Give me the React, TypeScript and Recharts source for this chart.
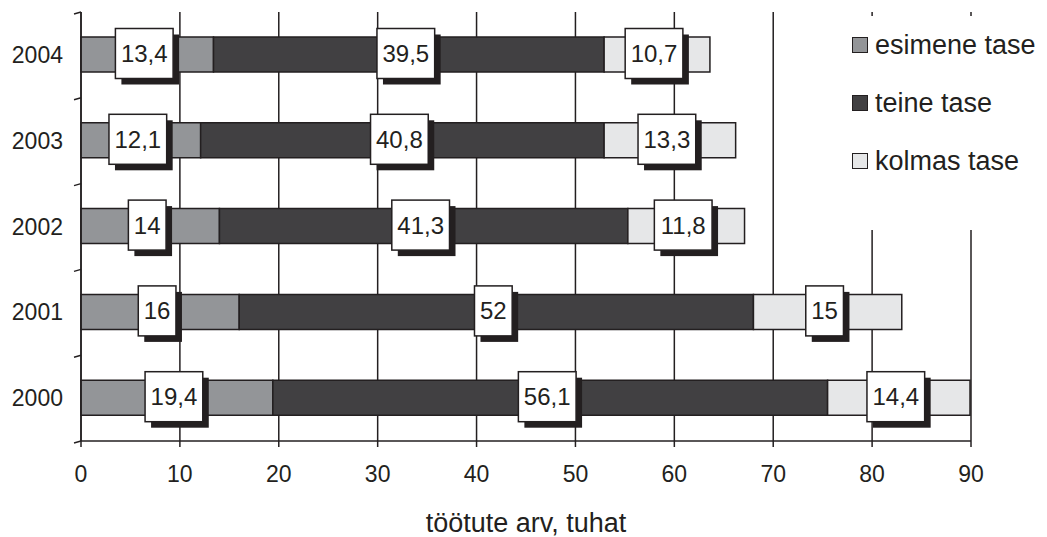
import { BarChart, Bar, XAxis, YAxis, CartesianGrid, LabelList } from "recharts"

const years = ["2004", "2003", "2002", "2001", "2000"]
const esimene = [13.4, 12.1, 14, 16, 19.4]
const teine = [39.5, 40.8, 41.3, 52, 56.1]
const kolmas = [10.7, 13.3, 11.8, 15, 14.4]
const xTicks = [0, 10, 20, 30, 40, 50, 60, 70, 80, 90]

const series = [
  { key: "esimene", name: "esimene tase", color: "#939598" },
  { key: "teine", name: "teine tase", color: "#414042" },
  { key: "kolmas", name: "kolmas tase", color: "#e6e7e8" },
]

const data = years.map((year, i) => ({
  year,
  esimene: esimene[i],
  teine: teine[i],
  kolmas: kolmas[i],
}))

const W = 1047
const H = 537
const TOP = 12
const XAXIS_H = 96
const INK = "#231f20"
const FONT = "'Liberation Sans', Arial, sans-serif"
const band = (H - TOP - XAXIS_H) / years.length

const fmt = (v: number) => String(v).replace(".", ",")

function textWidth(s: string, fs: number) {
  let w = 0
  for (const c of s) w += c === "," ? 0.278 * fs : 0.556 * fs
  return w
}

function ValueBox(props: any) {
  const vb = props.viewBox || {}
  const x = props.x ?? vb.x
  const y = props.y ?? vb.y
  const width = props.width ?? vb.width
  const height = props.height ?? vb.height
  const label = fmt(props.value)
  const fs = 24
  const bw = textWidth(label, fs) + 11
  const bh = 50
  const cx = x + width / 2 - 3
  const cy = y + height / 2 - 1
  return (
    <g>
      <rect x={cx - bw / 2 + 6} y={cy - bh / 2 + 6} width={bw} height={bh} fill={INK} />
      <rect x={cx - bw / 2} y={cy - bh / 2} width={bw} height={bh} fill="#fff" stroke={INK} strokeWidth={1.5} />
      <text x={cx} y={cy + 8.5} textAnchor="middle" fontSize={fs} fontFamily={FONT} fill={INK}>
        {label}
      </text>
    </g>
  )
}

function YearTick(props: any) {
  const { x, y, payload, index } = props
  return (
    <g>
      <line x1={x - 7} y1={y - band / 2 + 2} x2={x} y2={y - band / 2} stroke={INK} strokeWidth={1.5} />
      {index === years.length - 1 && (
        <line x1={x - 7} y1={y + band / 2 + 2} x2={x} y2={y + band / 2} stroke={INK} strokeWidth={1.5} />
      )}
      <text x={x - 18} y={y + 8} textAnchor="end" fontSize={23} fontFamily={FONT} fill={INK}>
        {payload.value}
      </text>
    </g>
  )
}

// legend sits over the top of the 80/90 gridlines, like the original
function LegendBox() {
  return (
    <div
      style={{
        position: "absolute",
        left: 835,
        top: 16,
        width: 212,
        height: 214,
        background: "#fff",
        fontFamily: FONT,
        fontSize: 27,
        color: INK,
        paddingTop: 0,
      }}
    >
      {series.map((s) => (
        <div key={s.key} style={{ display: "flex", alignItems: "center", height: 58, paddingLeft: 17 }}>
          <span
            style={{
              display: "inline-block",
              width: 14,
              height: 14,
              background: s.color,
              border: `1.5px solid ${INK}`,
              marginRight: 7,
            }}
          />
          {s.name}
        </div>
      ))}
    </div>
  )
}

export default function App() {
  return (
    <div style={{ position: "absolute", left: 0, top: 0, width: W, height: H, background: "#fff" }}>
      <BarChart
        width={W}
        height={H}
        data={data}
        layout="vertical"
        margin={{ top: TOP, right: 76, bottom: 0, left: 0 }}
        barSize={35}
      >
        <CartesianGrid horizontal={false} vertical stroke={INK} strokeWidth={1.5} />
        <XAxis
          type="number"
          domain={[0, 90]}
          ticks={xTicks}
          height={XAXIS_H}
          axisLine={{ stroke: INK, strokeWidth: 1.5 }}
          tickLine={{ stroke: INK, strokeWidth: 1.5 }}
          tickSize={6}
          tickMargin={19}
          tick={{ fontSize: 23, fontFamily: FONT, fill: INK }}
          label={{ value: "töötute arv, tuhat", position: "insideBottom", offset: 5, fontSize: 27, fontFamily: FONT, fill: INK }}
        />
        <YAxis
          type="category"
          dataKey="year"
          width={81}
          axisLine={{ stroke: INK, strokeWidth: 1.5 }}
          tickLine={false}
          tickSize={0}
          tickMargin={0}
          tick={<YearTick />}
        />
        {series.map((s) => (
          <Bar
            key={s.key}
            dataKey={s.key}
            name={s.name}
            stackId="a"
            fill={s.color}
            stroke={INK}
            strokeWidth={1.5}
            isAnimationActive={false}
          >
            <LabelList dataKey={s.key} content={<ValueBox />} />
          </Bar>
        ))}
      </BarChart>
      <LegendBox />
    </div>
  )
}
